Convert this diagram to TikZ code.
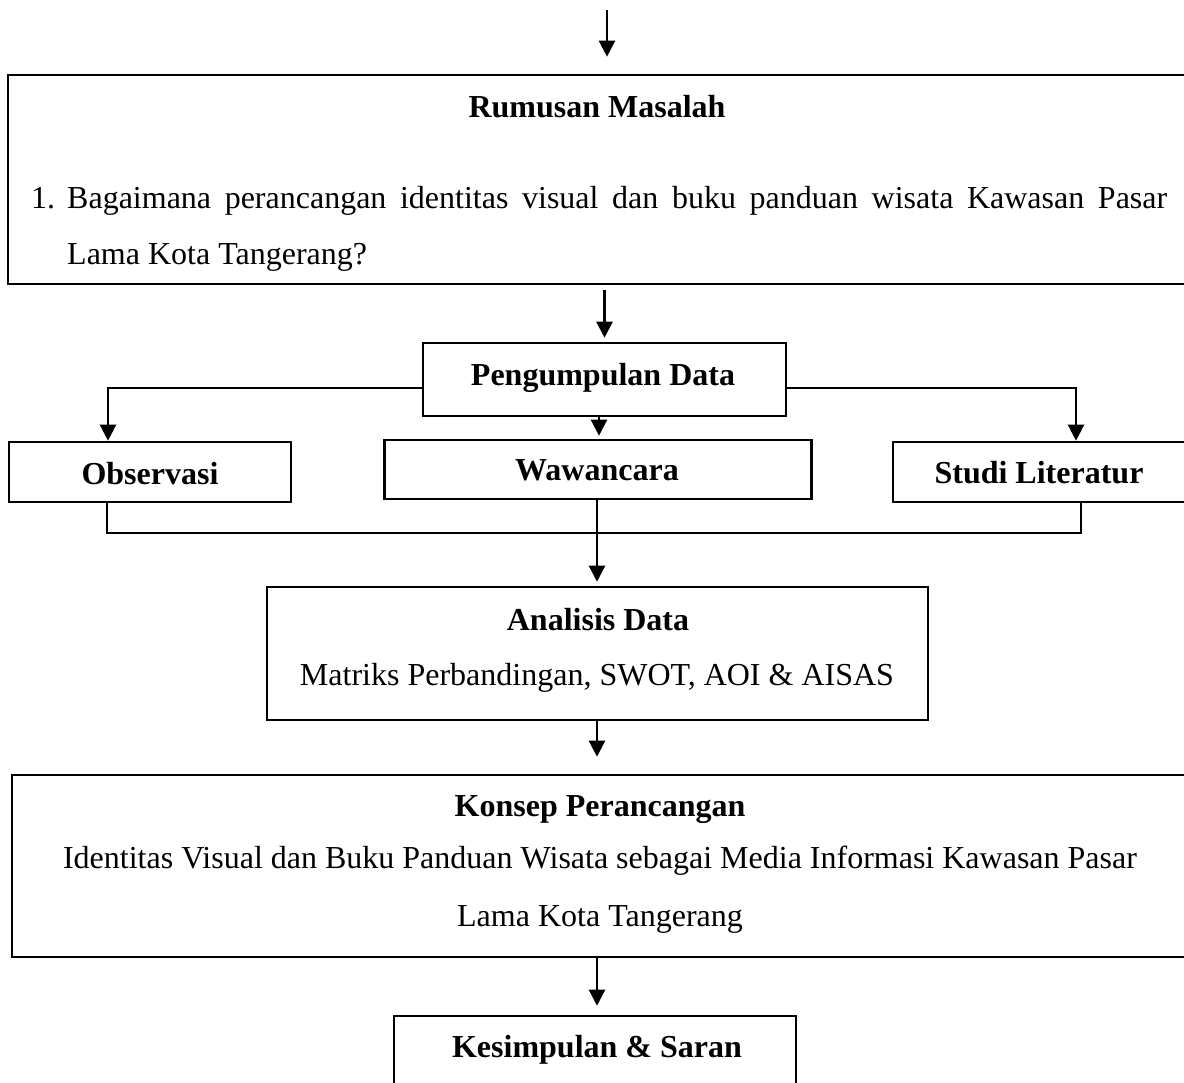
\documentclass[tikz,border=0pt]{standalone}
\usepackage{fontspec}
\setmainfont{Liberation Serif}
\usetikzlibrary{arrows.meta,calc}
\begin{document}
\begin{tikzpicture}[x=1pt,y=-1pt,
  box/.style={draw,line width=2.6pt,inner sep=0pt,minimum width=#1},
  txt/.style={anchor=base,inner sep=0pt,font=\fontsize{32}{38}\selectfont},
  btxt/.style={anchor=base,inner sep=0pt,font=\fontsize{32}{38}\selectfont\bfseries},
  arr/.style={line width=2.4pt,-{Triangle[length=16pt,width=16pt]}},
  ln/.style={line width=2.4pt}]
\useasboundingbox (0,0) rectangle (1184,1083);
% boxes
\node[box=1184pt,minimum height=209pt] (rum) at (600,179.5) {};
\node[box=363pt,minimum height=73pt] (peng) at (604.5,379.5) {};
\node[box=282pt,minimum height=60pt] (obs) at (150,472) {};
\node[box=427pt,minimum height=59pt] (waw) at (598,469.5) {};
\node[box=300pt,minimum height=60pt] (stud) at (1043,472) {};
\node[box=661pt,minimum height=133pt] (ana) at (597.5,653.5) {};
\node[box=1180pt,minimum height=182pt] (kon) at (602,866) {};
\node[box=402pt,minimum height=80pt] (kes) at (595,1056) {};
% texts
\node[btxt] (t1) at (597,118) {Rumusan Masalah};
\node[txt,anchor=base west] (t2a) at (31,209) {1.};
\node[txt,anchor=base west] (t2) at (67,209) {\makebox[1100pt][s]{Bagaimana perancangan identitas visual dan buku panduan wisata Kawasan Pasar}};
\node[txt,anchor=base west] (t3) at (67,265) {Lama Kota Tangerang?};
\node[btxt] (t4) at (603,385) {Pengumpulan Data};
\node[btxt] (t5) at (150,484) {Observasi};
\node[btxt] (t6) at (597,480) {Wawancara};
\node[btxt] (t7) at (1039,483) {Studi Literatur};
\node[btxt] (t8) at (598,630) {Analisis Data};
\node[txt] (t9) at (597,685) {Matriks Perbandingan, SWOT, AOI \& AISAS};
\node[btxt] (t10) at (600,816) {Konsep Perancangan};
\node[txt] (t11) at (600,868) {Identitas Visual dan Buku Panduan Wisata sebagai Media Informasi Kawasan Pasar};
\node[txt] (t12) at (600,926) {Lama Kota Tangerang};
\node[btxt] (t13) at (597,1057) {Kesimpulan \& Saran};
% connectors
\coordinate (start) at (607,10);
\draw[arr,shorten >=17pt] (start) -- (start |- rum.north);
\draw[arr,shorten <=5pt,shorten >=4pt] (rum.south -| peng.north) -- (peng.north);
\draw[arr] (peng.west |- 0,388) -- (108,388) -- (obs.north -| 108,0);
\draw[arr] (peng.east |- 0,388) -- (1076,388) -- (stud.north -| 1076,0);
\draw[arr,shorten >=3pt] (peng.south -| 599,0) -- (waw.north -| 599,0);
\draw[ln] (obs.south -| 107,0) -- (107,533) -- (1081,533) -- (stud.south -| 1081,0);
\draw[arr,shorten >=4pt] (waw.south -| 597,0) -- (ana.north -| 597,0);
\draw[arr,shorten >=17pt] (ana.south -| 597,0) -- (kon.north -| 597,0);
\draw[arr,shorten >=9pt] (kon.south -| 597,0) -- (kes.north -| 597,0);
\end{tikzpicture}
\end{document}
